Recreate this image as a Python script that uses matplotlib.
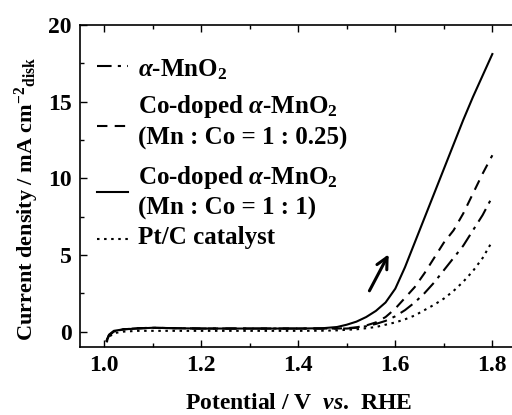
import numpy as np
import matplotlib
matplotlib.use('Agg')
import matplotlib.pyplot as plt

plt.rcParams['font.family'] = 'Liberation Serif'
plt.rcParams['font.weight'] = 'bold'
plt.rcParams['axes.labelweight'] = 'bold'
plt.rcParams['mathtext.fontset'] = 'custom'
plt.rcParams['mathtext.rm'] = 'Liberation Serif:bold'
plt.rcParams['mathtext.bf'] = 'Liberation Serif:bold'
plt.rcParams['mathtext.it'] = 'Liberation Serif:bold:italic'

# Potential sweep (V vs. RHE)
potential = [1.005, 1.01, 1.02, 1.04, 1.07, 1.10, 1.15, 1.20, 1.30, 1.40, 1.45,
             1.48, 1.50, 1.52, 1.54, 1.56, 1.58, 1.60, 1.62, 1.64, 1.66, 1.68,
             1.70, 1.72, 1.74, 1.76, 1.78, 1.80]

# Current density (mA cm^-2) for each catalyst
j_mno2 = [-0.6, -0.25, 0.0, 0.15, 0.22, 0.25, 0.22, 0.2, 0.2, 0.2, 0.2,
          0.2, 0.2, 0.25, 0.35, 0.5, 0.7, 1.0, 1.4, 1.9, 2.5, 3.2,
          4.0, 4.8, 5.6, 6.6, 7.6, 8.8]
j_co025 = [-0.6, -0.25, 0.0, 0.15, 0.22, 0.25, 0.22, 0.2, 0.2, 0.2, 0.2,
           0.2, 0.22, 0.28, 0.4, 0.6, 0.95, 1.5, 2.2, 2.9, 3.8, 4.8,
           5.8, 6.6, 7.7, 9.0, 10.3, 11.5]
j_co1 = [-0.6, -0.2, 0.05, 0.15, 0.2, 0.25, 0.22, 0.2, 0.2, 0.2, 0.22,
         0.3, 0.45, 0.65, 0.95, 1.35, 1.9, 2.8, 4.2, 5.8, 7.4, 9.0,
         10.6, 12.2, 13.8, 15.3, 16.7, 18.1]
j_ptc = [-0.7, -0.35, -0.1, 0.0, 0.05, 0.05, 0.05, 0.05, 0.05, 0.05, 0.06,
         0.08, 0.12, 0.15, 0.22, 0.3, 0.45, 0.6, 0.8, 1.05, 1.4, 1.75,
         2.15, 2.65, 3.25, 3.95, 4.8, 5.9]

labels = [r'$\alpha$-MnO$_2$',
          'Co-doped $\\alpha$-MnO$_2$\n(Mn : Co = 1 : 0.25)',
          'Co-doped $\\alpha$-MnO$_2$\n(Mn : Co = 1 : 1)',
          'Pt/C catalyst']

styles = [(0, (7, 3, 1.5, 3)), (0, (5, 3.5)), '-', (0, (1.2, 2.2))]
series = [j_mno2, j_co025, j_co1, j_ptc]

fig = plt.figure(figsize=(5.12, 4.15), dpi=100)
ax = fig.add_axes([0.156, 0.164, 0.853, 0.776])

for j, ls in zip(series, styles):
    ax.plot(potential, j, color='black', lw=1.5, ls=ls)

# hand-placed key (axes fraction): text rows and line samples
text_y = [0.860, 0.700, 0.482, 0.340]
handle_y = [0.872, 0.686, 0.481, 0.335]
for lab, ls, ty, hy in zip(labels, styles, text_y, handle_y):
    ax.plot([0.039, 0.110], [hy, hy], color='black', lw=1.5, ls=ls,
            transform=ax.transAxes)
    ax.text(0.133, ty, lab, transform=ax.transAxes, fontsize=18,
            va='center', ha='left', linespacing=1.32)

# sweep direction
ax.annotate('', xy=(1.589, 5.2), xytext=(1.544, 2.5),
            arrowprops=dict(arrowstyle='->', color='black', lw=2.2,
                            mutation_scale=20))

ax.set_xlim(0.95, 1.85)
ax.set_ylim(-1, 20)
ax.set_xticks([1.0, 1.2, 1.4, 1.6, 1.8])
ax.set_xticks(np.arange(1.1, 1.85, 0.2), minor=True)
ax.set_yticks([0, 5, 10, 15, 20])
ax.set_yticks([2.5, 7.5, 12.5, 17.5], minor=True)
ax.set_xticklabels(['1.0', '1.2', '1.4', '1.6', '1.8'])

ax.tick_params(which='both', direction='in', top=True, right=False,
               labelsize=17, width=1.0)
ax.tick_params(which='major', length=5, pad=6)
ax.tick_params(which='minor', length=3)
for s in ax.spines.values():
    s.set_linewidth(1.2)

ax.set_xlabel(r'Potential / V  $vs$.  RHE', fontsize=17, labelpad=12)
ax.set_ylabel(r'Current density / mA cm$^{\mathrm{-2}}{}_{\mathrm{disk}}$',
              fontsize=16)
ax.yaxis.set_label_coords(-0.09, 0.46)

fig.savefig('out.png', dpi=100)
